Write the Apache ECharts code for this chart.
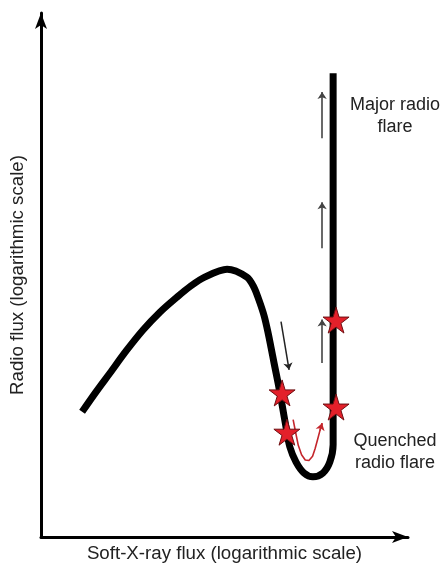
<!DOCTYPE html>
<html>
<head>
<meta charset="utf-8">
<script src="https://cdn.jsdelivr.net/npm/echarts@6/dist/echarts.min.js"></script>
<style>
html,body{margin:0;padding:0;background:#fff;}
#chart{width:443px;height:564px;}
</style>
</head>
<body>
<div id="chart"></div>
<script>
// Schematic data (arbitrary log-flux units, 0..100 on both axes)
var xAxisName = 'Soft-X-ray flux (logarithmic scale)';
var yAxisName = 'Radio flux (logarithmic scale)';

var curveX = [11.2, 15.0, 18.8, 23.2, 27.8, 32.4, 37.1, 40.8, 44.6, 50.7, 56.1, 58.0, 59.4, 60.8, 61.9, 62.7, 63.5, 64.6, 65.7, 66.8, 67.8, 69.5, 71.7, 74.1, 76.8, 78.7, 79.6, 79.6];
var curveY = [23.9, 27.7, 31.3, 35.5, 39.5, 42.9, 45.8, 47.9, 49.6, 51.1, 49.6, 47.7, 45.2, 42.2, 38.9, 36.1, 33.2, 29.4, 25.2, 20.8, 17.2, 14.3, 12.2, 11.5, 12.2, 14.3, 17.6, 88.5];

var starX = [65.7, 67.0, 80.4, 80.4];
var starY = [27.5, 20.0, 41.4, 24.8];

var redArrowX = [68.7, 69.4, 70.1, 71.0, 72.0, 73.0, 74.0, 74.7, 75.4, 76.0, 76.6];
var redArrowY = [22.4, 19.9, 17.5, 15.7, 14.7, 14.6, 15.4, 16.9, 18.7, 20.3, 21.7];

// upward arrows along the major flare track
var upArrowX = [76.6, 76.6, 76.6];
var upArrowTail = [76.1, 55.1, 33.2];
var upArrowTip = [84.9, 63.9, 41.5];

// downward arrow along the decay branch
var downArrowX = [65.4, 67.6];
var downArrowY = [41.1, 31.9];

var labelMajor = 'Major radio\nflare';
var labelQuenched = 'Quenched\nradio flare';

var chart = echarts.init(document.getElementById('chart'));

var curveData = curveX.map(function (x, i) { return [x, curveY[i]]; });
var starData = starX.map(function (x, i) { return [x, starY[i]]; });
var redCoords = redArrowX.map(function (x, i) { return [x, redArrowY[i]]; });
var nR = redCoords.length;
var redHead = [{ coords: [redCoords[nR - 2], redCoords[nR - 1]] }];
var upData = upArrowX.map(function (x, i) {
  return { coords: [[x, upArrowTail[i]], [x, upArrowTip[i]]] };
});
var downData = [{ coords: [[downArrowX[0], downArrowY[0]], [downArrowX[1], downArrowY[1]]] }];

var starPath = 'path://M50,0 L61,35 L98,35 L68,57 L79,91 L50,70 L21,91 L32,57 L2,35 L39,35 Z';
var font = '"Liberation Sans", Arial, sans-serif';

chart.setOption({
  animation: false,
  backgroundColor: '#ffffff',
  grid: { left: 41, right: 35, top: 13, bottom: 27, containLabel: false, outerBoundsMode: 'none' },
  xAxis: {
    type: 'value', min: 0, max: 100,
    name: xAxisName, nameLocation: 'middle', nameGap: 7,
    nameTextStyle: { fontFamily: font, fontSize: 18.7, color: '#222' },
    axisLine: { show: true, symbol: ['none', 'arrow'], symbolSize: [9, 16],
      lineStyle: { color: '#000', width: 3 } },
    axisTick: { show: false }, axisLabel: { show: false }, splitLine: { show: false }
  },
  yAxis: {
    type: 'value', min: 0, max: 100,
    name: yAxisName, nameLocation: 'middle', nameGap: 14, nameRotate: 90,
    nameTextStyle: { fontFamily: font, fontSize: 18.7, color: '#222' },
    axisLine: { show: true, symbol: ['none', 'arrow'], symbolSize: [9, 16],
      lineStyle: { color: '#000', width: 3 } },
    axisTick: { show: false }, axisLabel: { show: false }, splitLine: { show: false }
  },
  series: [
    {
      type: 'line', data: curveData, showSymbol: false, smooth: 0.3,
      smoothMonotone: 'none',
      lineStyle: { color: '#000', width: 7, cap: 'butt', join: 'round' },
      z: 2
    },
    {
      type: 'lines', coordinateSystem: 'cartesian2d', data: upData,
      symbol: ['none', 'arrow'], symbolSize: 7,
      lineStyle: { color: '#444', width: 1.6, opacity: 1 },
      z: 3
    },
    {
      type: 'lines', coordinateSystem: 'cartesian2d', data: downData,
      symbol: ['none', 'arrow'], symbolSize: 7,
      lineStyle: { color: '#222', width: 1.5, opacity: 1 },
      z: 3
    },
    {
      type: 'lines', coordinateSystem: 'cartesian2d', polyline: true,
      data: [{ coords: redCoords }],
      symbol: 'none',
      lineStyle: { color: '#c4262c', width: 1.6, opacity: 1, join: 'round' },
      z: 3
    },
    {
      type: 'lines', coordinateSystem: 'cartesian2d', data: redHead,
      symbol: ['none', 'arrow'], symbolSize: 7,
      lineStyle: { color: '#c4262c', width: 1.6, opacity: 1 },
      z: 3
    },
    {
      type: 'scatter', data: starData, symbol: starPath, symbolSize: 26,
      itemStyle: { color: '#e3202a', borderColor: '#6e0f12', borderWidth: 1, opacity: 1 },
      z: 5
    }
  ],
  graphic: [
    { type: 'text', x: 395, y: 94,
      style: { text: labelMajor, font: '18px ' + font, fill: '#222', align: 'center', verticalAlign: 'top', lineHeight: 22 } },
    { type: 'text', x: 395, y: 430,
      style: { text: labelQuenched, font: '18px ' + font, fill: '#222', align: 'center', verticalAlign: 'top', lineHeight: 22 } }
  ]
});
</script>
</body>
</html>
